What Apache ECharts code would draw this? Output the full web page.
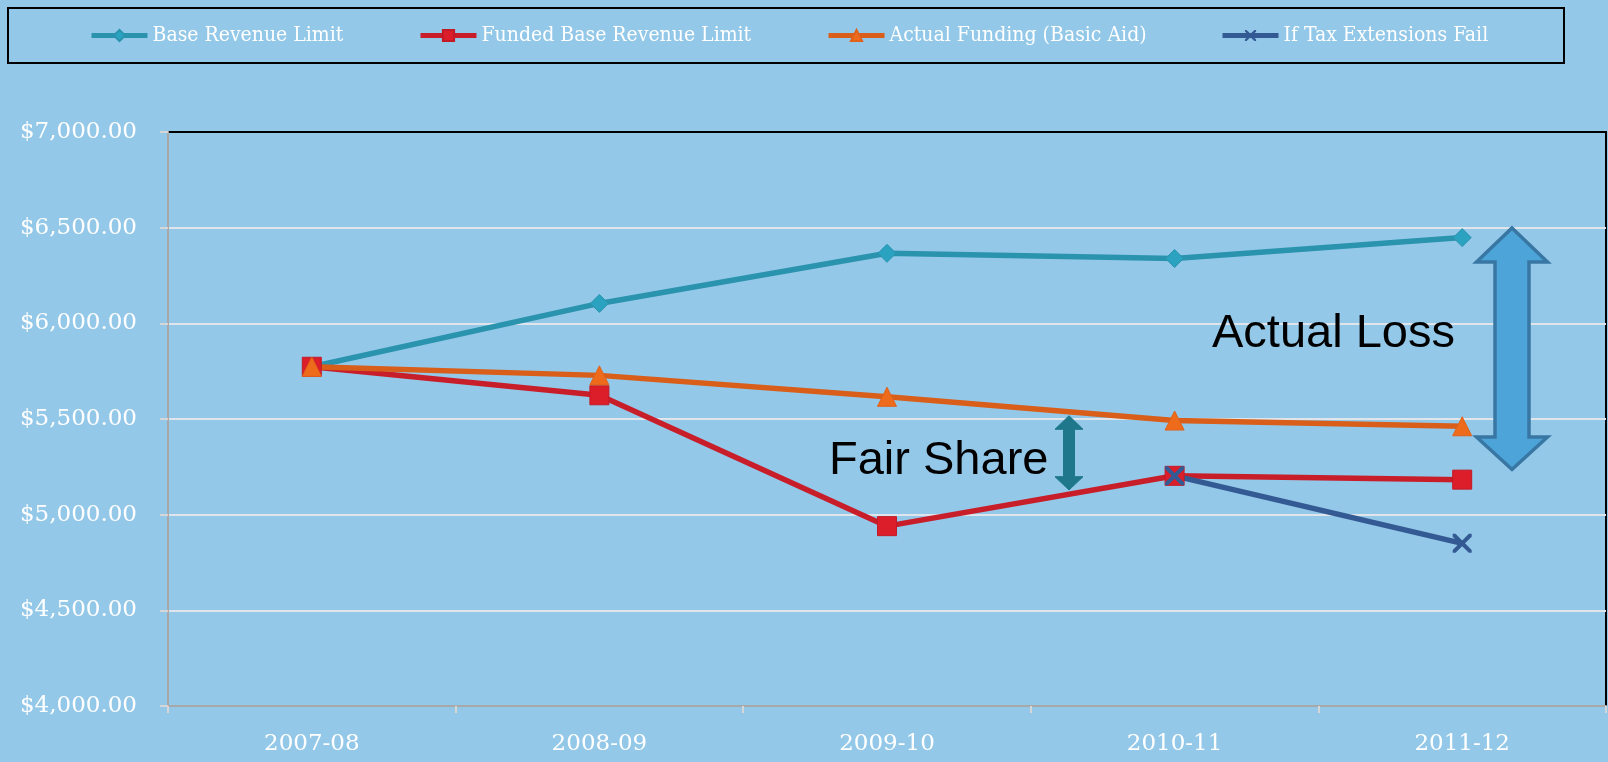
<!DOCTYPE html>
<html lang="en">
<head>
    <meta charset="UTF-8">
    <title>Revenue Limit</title>
    <script type="text/javascript" src="https://cdn.jsdelivr.net/npm/echarts@6/dist/echarts.min.js"></script>
    <style>
        html, body { margin: 0; padding: 0; background: #94c8e8; }
        #chart { width: 1608px; height: 762px; }
    </style>
</head>
<body>
<div id="chart"></div>
<script>
    // 数据
    var categories = ['2007-08', '2008-09', '2009-10', '2010-11', '2011-12'];
    var baseRevenue = [5773, 6104, 6366, 6339, 6448];
    var fundedBase = [5773, 5624, 4940, 5203, 5183];
    var actualFunding = [5773, 5728, 5616, 5492, 5462];
    var taxFail = [null, null, null, 5203, 4850];
    var seriesNames = ['Base Revenue Limit', 'Funded Base Revenue Limit', 'Actual Funding (Basic Aid)', 'If Tax Extensions Fail'];
    var legendLeft = [89, 418, 826, 1220];

    var mychart = echarts.init(document.getElementById('chart'));

    var xMark = 'path://M0,0L3,0L10,7L17,0L20,0L20,3L13,10L20,17L20,20L17,20L10,13L3,20L0,20L0,17L7,10L0,3Z';

    // 每个图例单独放置
    var legends = seriesNames.map(function (name, i) {
        return {
            data: [name],
            left: legendLeft[i],
            top: 25,
            padding: 0,
            itemWidth: 56,
            itemHeight: 14,
            selectedMode: false,
            lineStyle: {width: 5},
            textStyle: {
                color: '#ffffff',
                fontFamily: 'DejaVu Serif Condensed, DejaVu Serif',
                fontSize: 21
            }
        };
    });

    var option = {
        backgroundColor: '#94c8e8',
        animation: false,
        legend: legends,
        grid: {
            left: 168,
            right: 2,
            top: 132,
            bottom: 56,
            show: true,
            borderColor: '#000000',
            borderWidth: 2
        },
        xAxis: {
            type: 'category',
            data: categories,
            boundaryGap: true,
            axisLine: {lineStyle: {color: '#a8a8a8', width: 2}},
            axisTick: {show: true, length: 7, lineStyle: {color: '#d6d6d6', width: 2}},
            axisLabel: {
                color: '#ffffff',
                fontFamily: 'DejaVu Serif',
                fontSize: 23,
                margin: 27
            }
        },
        yAxis: {
            type: 'value',
            min: 4000,
            max: 7000,
            interval: 500,
            axisLine: {show: true, lineStyle: {color: '#a8a8a8', width: 2}},
            axisTick: {show: true, length: 8, lineStyle: {color: '#d6d6d6', width: 2}},
            splitLine: {showMaxLine: false, lineStyle: {color: '#dfe5ea', width: 2}},
            axisLabel: {
                color: '#ffffff',
                fontFamily: 'DejaVu Serif',
                fontSize: 23,
                margin: 31,
                formatter: function (v) {
                    return '$' + v.toLocaleString('en-US') + '.00';
                }
            }
        },
        series: [
            {
                name: seriesNames[0],
                type: 'line',
                data: baseRevenue,
                symbol: 'diamond',
                symbolSize: 18,
                lineStyle: {color: '#2a93ae', width: 5.5},
                itemStyle: {color: '#2ba2c0', borderColor: '#2a93ae', borderWidth: 1}
            },
            {
                name: seriesNames[1],
                type: 'line',
                data: fundedBase,
                symbol: 'rect',
                symbolSize: 19,
                lineStyle: {color: '#c81e2a', width: 5.5},
                itemStyle: {color: '#dc1e2a', borderColor: '#c21a26', borderWidth: 1}
            },
            {
                name: seriesNames[2],
                type: 'line',
                data: actualFunding,
                symbol: 'triangle',
                symbolSize: 19,
                lineStyle: {color: '#d85e19', width: 5.5},
                itemStyle: {color: '#ee6b1c', borderColor: '#e0621a', borderWidth: 1}
            },
            {
                name: seriesNames[3],
                type: 'line',
                data: taxFail,
                symbol: xMark,
                symbolSize: 19,
                connectNulls: false,
                lineStyle: {color: '#345a94', width: 5.5},
                itemStyle: {color: '#345a94'}
            }
        ],
        graphic: [
            // 图例边框
            {
                type: 'rect',
                shape: {x: 8, y: 8, width: 1556, height: 55},
                style: {fill: 'none', stroke: '#000000', lineWidth: 2},
                silent: true
            },
            {
                type: 'text',
                x: 1212,
                y: 334,
                style: {
                    text: 'Actual Loss',
                    fill: '#000000',
                    font: '47px "Liberation Sans", Arial, sans-serif',
                    textVerticalAlign: 'middle'
                },
                z: 10
            },
            {
                type: 'text',
                x: 829,
                y: 461,
                style: {
                    text: 'Fair Share',
                    fill: '#000000',
                    font: '47px "Liberation Sans", Arial, sans-serif',
                    textVerticalAlign: 'middle'
                },
                z: 10
            },
            // 大双箭头
            {
                type: 'polygon',
                shape: {
                    points: [
                        [1512, 228], [1547.5, 262], [1529, 262], [1529, 437], [1547.5, 437],
                        [1512, 469.5], [1476.5, 437], [1495, 437], [1495, 262], [1476.5, 262]
                    ]
                },
                style: {fill: '#4da4d9', stroke: '#3877a3', lineWidth: 3.5},
                z: 10
            },
            // 小双箭头
            {
                type: 'polygon',
                shape: {
                    points: [
                        [1069, 415.7], [1083, 429.3], [1074.5, 429.3], [1074.5, 476.7], [1083, 476.7],
                        [1069, 490], [1055, 476.7], [1063.5, 476.7], [1063.5, 429.3], [1055, 429.3]
                    ]
                },
                style: {fill: '#1e778a', stroke: '#1e778a', lineWidth: 1},
                z: 10
            }
        ]
    };
    mychart.setOption(option);
</script>
</body>
</html>
